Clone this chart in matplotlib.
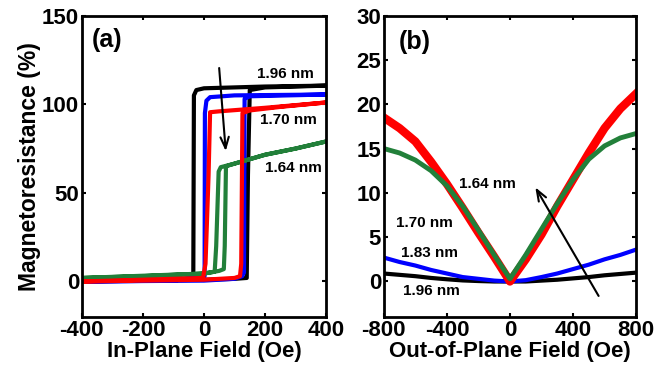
import matplotlib
matplotlib.use('Agg')
import matplotlib.pyplot as plt

plt.rcParams['font.family'] = ['Liberation Sans', 'DejaVu Sans']
plt.rcParams['font.weight'] = 'bold'
plt.rcParams['axes.unicode_minus'] = False

GREEN = '#22803a'

# (a) in-plane loops: field (Oe), MR (%) -- forward sweep then reverse sweep
h_196 = [-400, -200, 0, 100, 140, 144, 150, 200, 400, 200, 0, -25, -33, -35, -100, -400]
mr_196 = [0, 0.5, 1, 1.5, 2, 60, 108, 109.5, 110.5, 110, 109, 108, 105, 2, 1.2, 0]
h_183 = [-400, 0, 100, 125, 131, 133, 150, 400, 100, 20, 8, 3, 2, -100, -400]
mr_183 = [0, 0.5, 1.5, 3, 5, 103, 104.5, 105.5, 105, 104, 102, 95, 3, 0.5, 0]
h_170 = [-400, 0, 100, 118, 122, 126, 150, 250, 400, 200, 50, 20, 15, 5, -3, -400]
mr_170 = [0, 1, 2, 3, 10, 95, 96.5, 98.5, 101, 98, 96, 95.5, 60, 10, 2, 0]
h_164 = [-400, -200, 0, 50, 65, 68, 72, 100, 200, 300, 400, 300, 200, 100, 55, 48, 40, 35, 0, -400]
mr_164 = [2, 3, 4.5, 6, 7, 20, 65, 66.5, 71.5, 75, 79, 75, 71.5, 66.5, 64.5, 62, 20, 5.5, 4.5, 2]

# (b) out-of-plane sweeps
h_out = [-800, -700, -600, -500, -400, -300, -200, -100, 0, 100, 200, 300, 400, 500, 600, 700, 800]
out_170 = [18.5, 17.3, 15.8, 13.5, 11, 8.3, 5.5, 2.8, 0, 2.5, 5.3, 8.5, 11.5, 14.5, 17.3, 19.5, 21.2]
out_164 = [15, 14.5, 13.7, 12.5, 10.8, 8.5, 5.8, 3, 0.3, 3, 5.9, 8.8, 11.5, 13.8, 15.3, 16.2, 16.7]
out_183 = [2.7, 2.2, 1.8, 1.3, 0.9, 0.5, 0.3, 0.1, 0, 0.15, 0.5, 0.9, 1.4, 1.9, 2.5, 3.0, 3.6]
out_196 = [0.9, 0.75, 0.6, 0.4, 0.25, 0.12, 0.05, 0, 0, 0, 0.1, 0.2, 0.35, 0.5, 0.7, 0.85, 1.0]

fig = plt.figure(figsize=(6.71, 3.72), dpi=100)
ax1 = fig.add_axes([0.122, 0.148, 0.364, 0.81])
ax2 = fig.add_axes([0.572, 0.148, 0.376, 0.81])

arrow = dict(arrowstyle='->,head_length=0.8,head_width=0.3', color='black', lw=1.5)

# panel (a)
ax1.plot(h_196, mr_196, color='black', lw=3)
ax1.plot(h_183, mr_183, color='blue', lw=3)
ax1.plot(h_164, mr_164, color=GREEN, lw=3)
ax1.plot(h_170, mr_170, color='red', lw=3)
ax1.set_xlim(-400, 400)
ax1.set_ylim(-20, 150)
ax1.set_xticks([-400, -200, 0, 200, 400])
ax1.set_yticks([0, 50, 100, 150])
ax1.set_xlabel('In-Plane Field (Oe)', fontsize=16, fontweight='bold', labelpad=0)
ax1.set_ylabel('Magnetoresistance (%)', fontsize=16.5, fontweight='bold', labelpad=1)
ax1.text(-318, 136, '(a)', fontsize=18, fontweight='bold', ha='center', va='center')
ax1.text(266, 117, '1.96 nm', fontsize=11, fontweight='bold', ha='center', va='center')
ax1.text(276, 91, '1.70 nm', fontsize=11, fontweight='bold', ha='center', va='center')
ax1.text(292, 64, '1.64 nm', fontsize=11, fontweight='bold', ha='center', va='center')
ax1.annotate('', xy=(72, 72), xytext=(49, 122), arrowprops=arrow)

# panel (b)
ax2.plot(h_out, out_196, color='black', lw=3)
ax2.plot(h_out, out_183, color='blue', lw=3)
ax2.plot(h_out, out_170, color='red', lw=6)
ax2.plot(h_out, out_164, color=GREEN, lw=3.5)
ax2.set_xlim(-800, 800)
ax2.set_ylim(-4, 30)
ax2.set_xticks([-800, -400, 0, 400, 800])
ax2.set_yticks([0, 5, 10, 15, 20, 25, 30])
ax2.set_xlabel('Out-of-Plane Field (Oe)', fontsize=16, fontweight='bold', labelpad=0)
ax2.text(-602, 27, '(b)', fontsize=18, fontweight='bold', ha='center', va='center')
ax2.text(-140, 11, '1.64 nm', fontsize=11, fontweight='bold', ha='center', va='center')
ax2.text(-540, 6.6, '1.70 nm', fontsize=11, fontweight='bold', ha='center', va='center')
ax2.text(-508, 3.2, '1.83 nm', fontsize=11, fontweight='bold', ha='center', va='center')
ax2.text(-495, -1.1, '1.96 nm', fontsize=11, fontweight='bold', ha='center', va='center')
ax2.annotate('', xy=(152, 10.9), xytext=(571, -1.9), arrowprops=arrow)

for ax in (ax1, ax2):
    ax.tick_params(direction='in', top=True, right=True, length=3, width=1.5,
                   labelsize=16, pad=2)
    for lab in ax.get_xticklabels() + ax.get_yticklabels():
        lab.set_fontweight('bold')
    for sp in ax.spines.values():
        sp.set_linewidth(2)

plt.savefig('out.png', dpi=100)
plt.close()
